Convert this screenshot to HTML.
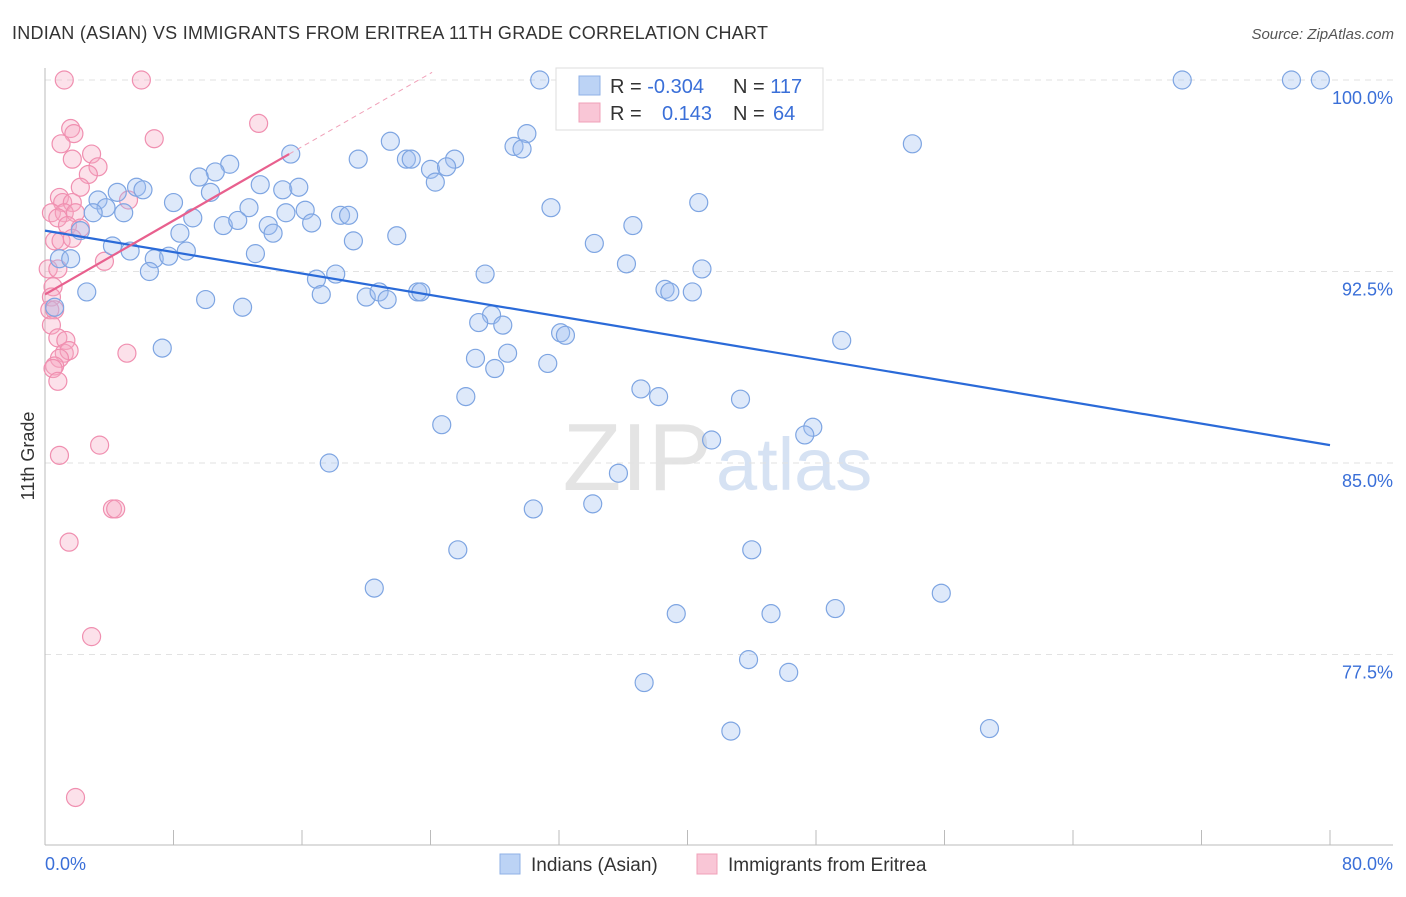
<!DOCTYPE html>
<html><head><meta charset="utf-8"><style>
body{margin:0;background:#fff;font-family:"Liberation Sans",sans-serif}
svg text{font-family:"Liberation Sans",sans-serif}
</style></head><body>
<svg id="chart" width="1406" height="892" xmlns="http://www.w3.org/2000/svg">
<text x="12" y="39" font-size="18" fill="#333" textLength="756">INDIAN (ASIAN) VS IMMIGRANTS FROM ERITREA 11TH GRADE CORRELATION CHART</text>
<text x="1394" y="39" font-size="15" fill="#555" font-style="italic" text-anchor="end">Source: ZipAtlas.com</text>
<text x="712" y="490" font-size="96" fill="#e4e4e4" font-family="Liberation Serif" text-anchor="end">ZIP</text>
<text x="716" y="490" font-size="74" fill="#d6e2f3">atlas</text>
<g id="grid"></g>
<g id="axes"></g>
<g id="pink"></g>
<g id="blue"></g>
<g id="trends"></g>
<text x="34" y="456" font-size="18" fill="#333" transform="rotate(-90 34 456)" text-anchor="middle">11th Grade</text>
<text x="45" y="870" font-size="18" fill="#3a6fd8">0.0%</text>
<text x="1393" y="870" font-size="18" fill="#3a6fd8" text-anchor="end">80.0%</text>
<g>
<rect x="556" y="68" width="267" height="62" fill="#fff" stroke="#ddd"/>
<rect x="579" y="76" width="21" height="19" fill="#bcd3f5" stroke="#8fb0e6"/>
<rect x="579" y="103" width="21" height="19" fill="#f9c6d6" stroke="#f0a0b8"/>
<text x="610" y="93" font-size="20" fill="#333">R = <tspan fill="#3a6fd8">-0.304</tspan></text>
<text x="733" y="93" font-size="20" fill="#333">N = <tspan fill="#3a6fd8">117</tspan></text>
<text x="610" y="120" font-size="20" fill="#333">R = <tspan fill="#3a6fd8" x="662">0.143</tspan></text>
<text x="733" y="120" font-size="20" fill="#333">N = <tspan fill="#3a6fd8" x="773">64</tspan></text>
</g>
<g>
<rect x="500" y="854" width="20" height="20" fill="#bcd3f5" stroke="#8fb0e6"/>
<text x="531" y="871" font-size="19" fill="#333">Indians (Asian)</text>
<rect x="697" y="854" width="20" height="20" fill="#f9c6d6" stroke="#f0a0b8"/>
<text x="728" y="871" font-size="19" fill="#333">Immigrants from Eritrea</text>
</g>
</svg>
<script>
const yTicks=[100,92.5,85,77.5];
const yTickLabels=["100.0%","92.5%","85.0%","77.5%"];
const xTicks=[0,8,16,24,32,40,48,56,64,72,80];
const blueX=[30.8,46.8,70.8,77.6,79.4,54.0,21.5,30.0,29.2,29.7,22.5,22.8,19.5,25.5,24.0,25.0,24.3,15.3,11.5,10.6,9.6,13.4,14.8,15.8,5.7,6.1,4.5,3.3,3.8,3.0,4.9,8.0,10.3,12.7,16.2,15.0,18.4,18.9,16.6,9.2,11.1,12.0,13.9,14.2,2.2,8.4,19.2,21.9,31.5,40.7,36.6,34.2,4.2,5.3,6.8,7.7,8.8,13.1,6.5,36.2,40.9,27.4,18.1,16.9,17.2,20.0,20.8,21.3,23.2,23.4,2.6,10.0,12.3,38.6,38.9,40.3,27.8,27.0,28.5,32.1,32.4,49.6,7.3,28.8,26.8,28.0,31.3,37.1,26.2,38.2,43.3,24.7,47.8,47.3,41.5,17.7,35.7,30.4,34.1,25.7,44.0,20.5,55.8,39.3,45.2,49.2,43.8,46.3,37.3,42.7,58.8,0.9,1.6,0.6];
const blueY=[100,100,100,100,100,97.5,97.6,97.9,97.4,97.3,96.9,96.9,96.9,96.9,96.5,96.6,96.0,97.1,96.7,96.4,96.2,95.9,95.7,95.8,95.8,95.7,95.6,95.3,95.0,94.8,94.8,95.2,95.6,95.0,94.9,94.8,94.7,94.7,94.4,94.6,94.3,94.5,94.3,94.0,94.1,94.0,93.7,93.9,95.0,95.2,94.3,93.6,93.5,93.3,93.0,93.1,93.3,93.2,92.5,92.8,92.6,92.4,92.4,92.2,91.6,91.5,91.7,91.4,91.7,91.7,91.7,91.4,91.1,91.8,91.7,91.7,90.8,90.5,90.4,90.1,90.0,89.8,89.5,89.3,89.1,88.7,88.9,87.9,87.6,87.6,87.5,86.5,86.4,86.1,85.9,85.0,84.6,83.2,83.4,81.6,81.6,80.1,79.9,79.1,79.1,79.3,77.3,76.8,76.4,74.5,74.6,93.0,93.0,91.1];
const pinkX=[1.2,6.0,13.3,1.6,1.8,6.8,1.0,2.9,1.7,3.3,2.7,2.2,0.9,1.1,1.7,5.2,0.4,1.2,1.9,0.8,1.4,2.2,0.6,1.0,1.7,0.2,0.8,3.7,0.5,0.4,0.3,0.6,0.4,0.8,1.3,1.2,1.5,0.9,0.6,0.5,0.8,5.1,3.4,0.9,4.2,4.4,1.5,2.9,1.9];
const pinkY=[100,100,98.3,98.1,97.9,97.7,97.5,97.1,96.9,96.6,96.3,95.8,95.4,95.2,95.2,95.3,94.8,94.8,94.8,94.6,94.3,94.2,93.7,93.7,93.8,92.6,92.6,92.9,91.9,91.5,91.0,91.0,90.4,89.9,89.8,89.3,89.4,89.1,88.8,88.7,88.2,89.3,85.7,85.3,83.2,83.2,81.9,78.2,71.9];
const blueTrendX=[0,80], blueTrendY=[94.1,85.7];
const pinkTrendX=[0,15.2,24.1], pinkTrendY=[91.6,97.1,100.3];
const NS="http://www.w3.org/2000/svg";
const xs=v=>45+v/80*1285;
const ys=v=>80+(100-v)/7.5*191.5;
function mk(tag,attrs,parent){const e=document.createElementNS(NS,tag);for(const k in attrs)e.setAttribute(k,attrs[k]);parent.appendChild(e);return e;}
const grid=document.getElementById('grid'),axes=document.getElementById('axes');
yTicks.forEach((t,i)=>{
 const l=mk('line',{x1:45,x2:1393,y1:ys(t),y2:ys(t),stroke:'#e2e2e2','stroke-dasharray':'6,5'},grid);
 
 
 const tx=mk('text',{x:1393,y:ys(t)+24,'font-size':18,fill:'#3a6fd8','text-anchor':'end'},grid);
 tx.textContent=yTickLabels[i];
 
 
});
const ya=mk('line',{x1:45,x2:45,y1:68,y2:845,stroke:'#bbb'},axes);


const xa=mk('line',{x1:45,x2:1393,y1:845,y2:845,stroke:'#bbb'},axes);


xTicks.forEach(t=>{const l=mk('line',{x1:xs(t),x2:xs(t),y1:830,y2:845,stroke:'#bbb'},axes);
 
 });
function dots(X,Y,g,fill,stroke,name){X.forEach((x,i)=>{const c=mk('circle',{cx:xs(x),cy:ys(Y[i]),r:9,fill:fill,stroke:stroke,'stroke-width':1.2},g);
 
 });}
dots(pinkX,pinkY,document.getElementById('pink'),'rgba(246,170,196,0.35)','#f08fb0','eritrea-point');
dots(blueX,blueY,document.getElementById('blue'),'rgba(160,192,240,0.35)','#7ea5e2','indian-point');
const tr=document.getElementById('trends');
const bl=mk('line',{x1:xs(blueTrendX[0]),y1:ys(blueTrendY[0]),x2:xs(blueTrendX[1]),y2:ys(blueTrendY[1]),stroke:'#2a6ad8','stroke-width':2.2},tr);


const pl=mk('line',{x1:xs(pinkTrendX[0]),y1:ys(pinkTrendY[0]),x2:xs(pinkTrendX[1]),y2:ys(pinkTrendY[1]),stroke:'#e8608e','stroke-width':2.2},tr);


const pd=mk('line',{x1:xs(pinkTrendX[1]),y1:ys(pinkTrendY[1]),x2:xs(pinkTrendX[2]),y2:ys(pinkTrendY[2]),stroke:'#f0a0b8','stroke-width':1,'stroke-dasharray':'5,4'},tr);


</script>
</body></html>
